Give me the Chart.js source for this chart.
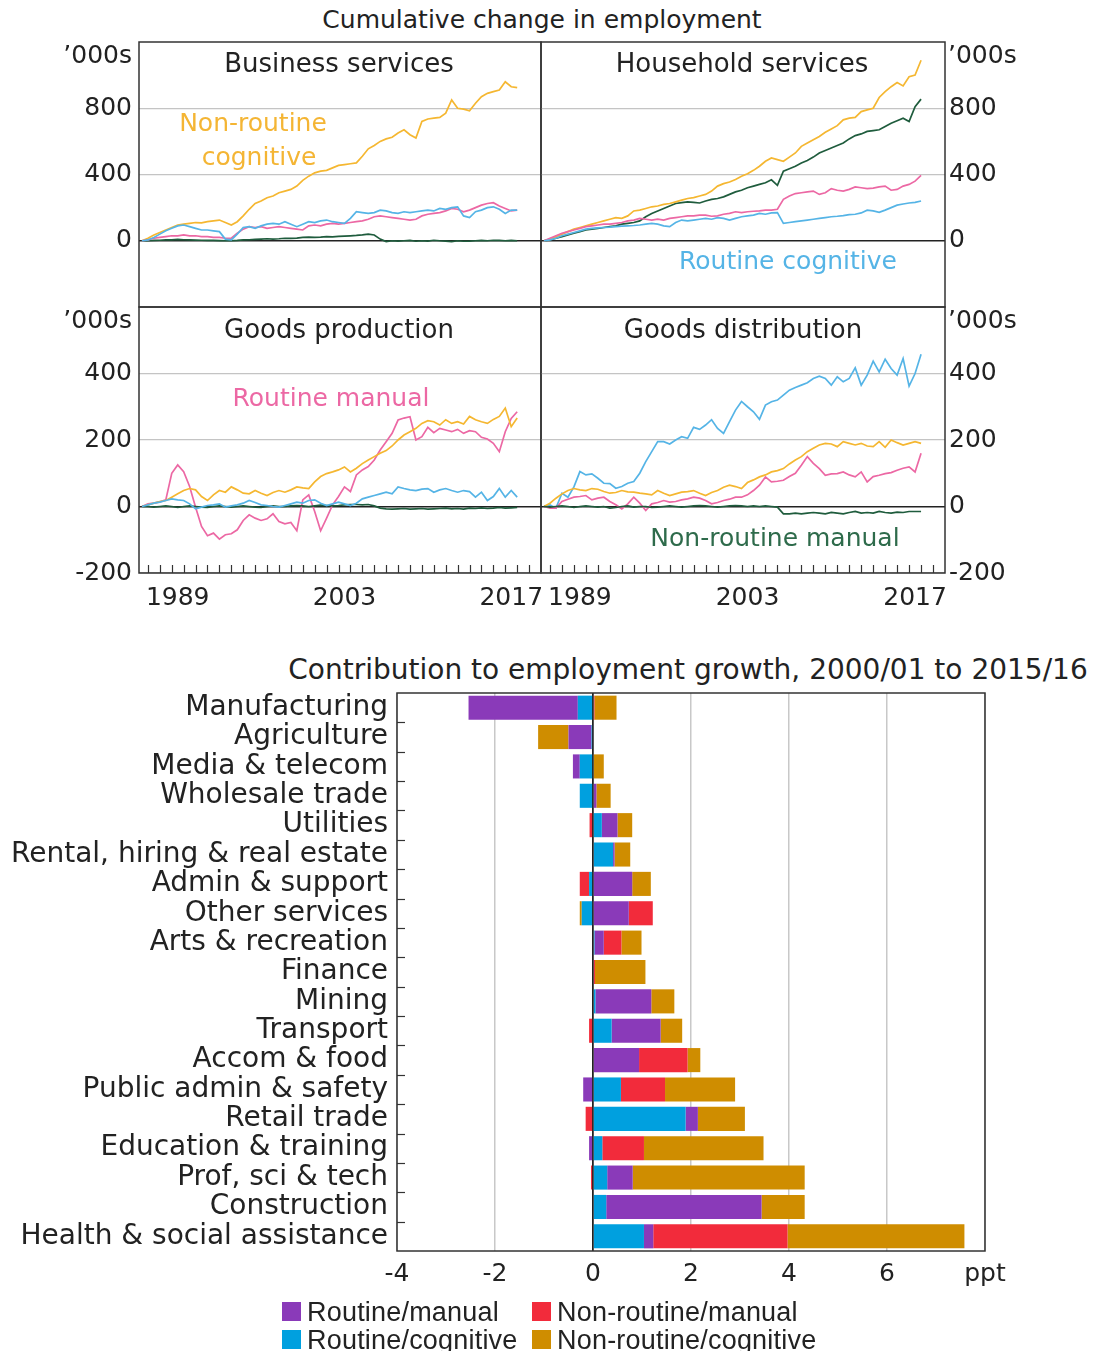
<!DOCTYPE html>
<html>
<head>
<meta charset="utf-8">
<script src="https://cdn.jsdelivr.net/npm/chart.js@4"></script>
<style>
  body { margin: 0; background: #fff; width: 1094px; height: 1351px; position: relative; overflow: hidden;
         font-family: 'DejaVu Sans', sans-serif; color: #222; }
  canvas { position: absolute; }
  .t { position: absolute; white-space: nowrap; font-size: 25px; line-height: 30px; }
  .c { text-align: center; width: 400px; }
  .r { text-align: right; width: 100px; }
  .pt { font-size: 26px; }
  .lg { font-family: 'Liberation Sans', Arial, sans-serif; font-size: 27px; letter-spacing: 0.2px; }
  .sq { position: absolute; width: 19px; height: 19px; }
</style>
</head>
<body>
<div class="t" style="left:0;width:1084px;text-align:center;top:5px">Cumulative change in employment</div>

<canvas id="tl" width="545" height="282" style="left:0;top:30px"></canvas>
<canvas id="tr" width="557" height="282" style="left:537px;top:30px"></canvas>
<canvas id="bl" width="545" height="330" style="left:0;top:295px"></canvas>
<canvas id="br" width="557" height="330" style="left:537px;top:295px"></canvas>

<div class="t r" style="left:32px;top:40px">’000s</div>
<div class="t r" style="left:32px;top:305px">’000s</div>
<div class="t" style="left:948px;top:40px">’000s</div>
<div class="t" style="left:948px;top:305px">’000s</div>

<div class="t c pt" style="left:139px;top:48px">Business services</div>
<div class="t c pt" style="left:542px;top:48px">Household services</div>
<div class="t c pt" style="left:139px;top:314px">Goods production</div>
<div class="t c pt" style="left:543px;top:314px">Goods distribution</div>

<div class="t c" style="left:53px;top:108px;color:#f4b534">Non-routine</div>
<div class="t c" style="left:59px;top:142px;color:#f4b534">cognitive</div>
<div class="t c" style="left:588px;top:246px;color:#55b4e6">Routine cognitive</div>
<div class="t c" style="left:131px;top:383px;color:#ec68a4">Routine manual</div>
<div class="t c" style="left:575px;top:523px;color:#2e6b4b">Non-routine manual</div>

<div class="t" style="left:188px;width:1000px;text-align:center;top:655px;font-size:28px">Contribution to employment growth, 2000/01 to 2015/16</div>
<canvas id="bars" width="1010" height="630" style="left:0;top:673px"></canvas>

<div class="sq" style="left:282px;top:1302px;background:#8a3ab9"></div>
<div class="t lg" style="left:307px;top:1297px">Routine/manual</div>
<div class="sq" style="left:532px;top:1302px;background:#f22b3b"></div>
<div class="t lg" style="left:557px;top:1297px">Non-routine/manual</div>
<div class="sq" style="left:282px;top:1330px;background:#00a0df"></div>
<div class="t lg" style="left:307px;top:1325px">Routine/cognitive</div>
<div class="sq" style="left:532px;top:1330px;background:#cf8d00"></div>
<div class="t lg" style="left:557px;top:1325px">Non-routine/cognitive</div>

<script>
// half-yearly readings, 1986.5 to 2018.0
const dates = Array.from({ length: 64 }, (_, i) => 1986.5 + i * 0.5);
const yearLabels = [1989, 2003, 2017];

// Business services
const bsNRC = [0, 15, 35, 50, 65, 80, 95, 100,
  105, 110, 108, 115, 120, 125, 110, 95,
  115, 150, 190, 225, 240, 260, 270, 290,
  300, 310, 330, 365, 390, 410, 420, 425,
  440, 455, 460, 465, 470, 510, 555, 575,
  600, 615, 625, 650, 670, 640, 620, 720,
  735, 740, 745, 770, 850, 800, 795, 785,
  830, 870, 890, 900, 910, 960, 930, 925];
const bsRC = [0, 5, 20, 40, 60, 75, 90, 95,
  85, 75, 65, 65, 60, 55, 10, 5,
  40, 80, 85, 75, 90, 100, 105, 100,
  115, 100, 85, 100, 115, 110, 120, 125,
  115, 110, 105, 135, 175, 170, 165, 170,
  185, 180, 170, 165, 175, 170, 175, 180,
  185, 180, 195, 190, 200, 205, 150, 140,
  175, 185, 200, 205, 190, 165, 185, 185];
const bsRM = [0, 5, 15, 20, 25, 30, 30, 35,
  30, 30, 25, 25, 20, 20, 15, 15,
  45, 70, 85, 80, 85, 75, 80, 85,
  80, 75, 70, 65, 90, 95, 90, 100,
  105, 100, 105, 110, 115, 120, 130, 145,
  150, 145, 140, 135, 130, 125, 130, 150,
  160, 165, 170, 180, 195, 190, 175, 185,
  200, 215, 225, 230, 210, 195, 180, 185];
const bsNRM = [0, 0, 2, 3, 5, 5, 8, 6,
  5, 4, 3, 2, 2, 1, 0, 0,
  2, 5, 6, 8, 10, 12, 10, 12,
  15, 14, 16, 20, 22, 20, 22, 25,
  24, 26, 28, 30, 32, 35, 40, 35,
  10, -5, 0, -2, 0, 2, -3, 0,
  -2, 3, 0, -2, -5, 0, -3, -2,
  0, 2, 0, 3, 2, 0, 2, 0];

// Household services
const hsNRC = [0, 10, 25, 40, 55, 70, 80, 90,
  100, 110, 120, 130, 140, 135, 150, 180,
  185, 195, 205, 210, 220, 225, 235, 245,
  255, 260, 270, 280, 300, 330, 345, 355,
  370, 390, 405, 425, 450, 480, 500, 490,
  480, 505, 530, 570, 590, 610, 630, 655,
  675, 695, 730, 740, 745, 780, 790, 800,
  865, 900, 930, 955, 935, 990, 1000, 1090];
const hsNRM = [0, 5, 15, 25, 35, 45, 55, 65,
  70, 75, 80, 85, 90, 100, 105, 110,
  120, 145, 165, 180, 195, 210, 225, 230,
  235, 232, 228, 240, 250, 255, 265, 280,
  295, 305, 320, 330, 340, 350, 368, 335,
  420, 435, 450, 470, 485, 505, 530, 545,
  560, 575, 590, 615, 635, 645, 660, 665,
  670, 690, 710, 725, 740, 720, 810, 855];
const hsRM = [0, 15, 30, 45, 55, 65, 75, 85,
  90, 95, 100, 100, 105, 110, 120, 125,
  135, 130, 125, 130, 125, 135, 140, 145,
  150, 150, 155, 155, 148, 150, 160, 165,
  175, 170, 175, 178, 180, 185, 185, 190,
  250, 270, 285, 290, 295, 300, 280, 290,
  315, 305, 300, 310, 325, 320, 315, 318,
  325, 330, 305, 310, 330, 340, 360, 395];
const hsRC = [0, 5, 15, 30, 40, 50, 60, 70,
  75, 78, 80, 82, 85, 88, 90, 92,
  95, 100, 105, 100, 90, 85, 110, 125,
  120, 125, 130, 135, 130, 140, 135, 125,
  135, 145, 150, 155, 165, 160, 168, 170,
  105, 110, 115, 120, 125, 130, 135, 140,
  145, 148, 152, 158, 160, 168, 185, 180,
  172, 185, 200, 215, 222, 228, 232, 240];

// Goods production
const gpRM = [0, 8, 10, 14, 20, 100, 125, 105,
  60, -2, -60, -88, -80, -98, -85, -82,
  -70, -42, -25, -35, -42, -37, -22, -45,
  -52, -48, -73, 20, 35, -15, -73, -35,
  5, 30, 59, 45, 95, 110, 120, 140,
  170, 195, 220, 260, 266, 270, 200, 210,
  238, 222, 235, 230, 225, 232, 220, 228,
  225, 208, 203, 190, 165, 225, 265, 285];
const gpNRC = [0, 5, 10, 15, 18, 28, 38, 48,
  54, 50, 30, 18, 35, 48, 43, 59,
  50, 40, 38, 48, 40, 33, 42, 48,
  43, 50, 59, 56, 54, 74, 90, 99,
  104, 110, 119, 104, 115, 129, 140, 150,
  160, 168, 182, 200, 215, 225, 235, 250,
  258, 255, 245, 261, 250, 255, 248, 271,
  261, 255, 250, 262, 271, 296, 240, 266];
const gpRC = [0, 5, 10, 13, 18, 23, 20, 18,
  8, -7, -2, 3, 5, 8, -2, 2,
  5, 10, 18, 12, 5, 3, 0, -2,
  3, 8, 13, 10, 18, 20, 10, 3,
  8, 13, 8, 3, 10, 23, 28, 33,
  38, 43, 38, 59, 54, 50, 48, 52,
  54, 43, 50, 54, 48, 43, 48, 45,
  28, 43, 18, 30, 54, 28, 48, 28];
const gpNRM = [0, 0, -2, 0, 2, 0, -3, 0,
  2, 0, -2, -3, 0, 2, 0, -2,
  0, 2, 0, -2, -3, 0, 2, 0,
  0, 2, 3, 2, 0, 2, 4, 3,
  2, 3, 5, 6, 6, 5, 6, 2,
  -5, -7, -8, -7, -6, -8, -7, -6,
  -8, -7, -6, -5, -7, -6, -8, -5,
  -6, -4, -6, -5, -3, -5, -4, -3];

// Goods distribution
const gdRC = [0, 5, -5, 40, 28, 59, 105, 95,
  98, 85, 70, 69, 55, 60, 70, 75,
  100, 135, 165, 195, 195, 188, 200, 210,
  205, 238, 232, 245, 261, 235, 220, 255,
  290, 316, 300, 285, 262, 305, 315, 320,
  335, 350, 358, 365, 372, 385, 392, 385,
  365, 390, 375, 385, 417, 365, 395, 437,
  405, 443, 415, 395, 445, 362, 400, 458];
const gdNRC = [0, 10, 25, 38, 48, 54, 50, 48,
  54, 52, 45, 40, 42, 48, 44, 43,
  40, 38, 35, 48, 40, 33, 38, 43,
  45, 48, 40, 33, 42, 48, 58, 64,
  60, 54, 72, 80, 89, 95, 104, 108,
  114, 128, 140, 150, 165, 175, 185, 190,
  188, 180, 195, 190, 185, 190, 182, 180,
  195, 178, 200, 192, 185, 190, 195, 190];
const gdRM = [0, -5, -5, 15, 22, 28, 30, 33,
  20, 25, 28, 15, 5, -7, 8, 28,
  10, -12, 8, 12, 18, 13, 15, 20,
  23, 28, 25, 18, 8, 12, 18, 22,
  28, 28, 35, 48, 64, 89, 74, 76,
  79, 90, 100, 124, 150, 130, 114, 94,
  98, 99, 104, 95, 89, 104, 74, 90,
  94, 99, 102, 109, 115, 119, 104, 160];
const gdNRM = [0, -2, 0, 2, 0, -3, 0, 2,
  0, -2, 0, -5, -3, 0, 2, -2,
  0, 0, -3, -2, 0, 2, 0, -2,
  0, 2, 3, 2, 0, -2, 0, 2,
  3, 2, 0, 2, 0, 2, 0, -2,
  -22, -22, -20, -22, -20, -18, -20, -22,
  -18, -20, -22, -18, -15, -20, -18, -20,
  -15, -18, -20, -17, -18, -15, -15, -15];

// Contribution to employment growth (ppt)
const industries = ["Manufacturing", "Agriculture", "Media & telecom", "Wholesale trade", "Utilities",
  "Rental, hiring & real estate", "Admin & support", "Other services", "Arts & recreation", "Finance",
  "Mining", "Transport", "Accom & food", "Public admin & safety", "Retail trade",
  "Education & training", "Prof, sci & tech", "Construction", "Health & social assistance"];
const barRoutineCog = [-0.31, -0.03, -0.27, -0.27, 0.18, 0.41, -0.08, -0.23, 0.03, 0,
  0.05, 0.38, 0, 0.57, 1.89, 0.19, 0.29, 0.27, 1.04];
const barRoutineMan = [-2.23, -0.47, -0.14, 0.07, 0.32, 0.03, 0.80, 0.73, 0.19, 0,
  1.14, 1.00, 0.94, -0.20, 0.25, -0.08, 0.52, 3.17, 0.19];
const barNonRoutineMan = [0.03, 0, 0, 0, -0.07, 0, -0.19, 0.49, 0.36, 0.04,
  0, -0.08, 0.99, 0.90, -0.15, 0.85, -0.04, 0, 2.74];
const barNonRoutineCog = [0.45, -0.62, 0.22, 0.29, 0.30, 0.32, 0.38, -0.04, 0.41, 1.03,
  0.47, 0.44, 0.26, 1.43, 0.96, 2.44, 3.51, 0.88, 3.61];

Chart.defaults.font.family = "'DejaVu Sans', sans-serif";
Chart.defaults.color = "#222";

const COL = { rc: "#55b4e6", rm: "#ec68a4", nrc: "#f5b731", nrm: "#1f5c3d" };

const frame = {
  id: "frame",
  afterDraw(chart) {
    const a = chart.chartArea, ctx = chart.ctx;
    ctx.save();
    ctx.strokeStyle = "#333";
    ctx.lineWidth = 1.5;
    ctx.strokeRect(a.left, a.top, a.right - a.left, a.bottom - a.top);
    ctx.restore();
  }
};

// small yearly ticks pointing up from the bottom edge
const yearTicks = {
  id: "yearTicks",
  afterDraw(chart) {
    const a = chart.chartArea, ctx = chart.ctx, sx = chart.scales.x;
    ctx.save();
    ctx.strokeStyle = "#333";
    ctx.lineWidth = 1.2;
    for (let y = 1987; y <= 2019; y++) {
      const px = Math.round(sx.getPixelForValue(y)) + 0.5;
      ctx.beginPath();
      ctx.moveTo(px, a.bottom);
      ctx.lineTo(px, a.bottom - 8);
      ctx.stroke();
    }
    ctx.restore();
  }
};

// fixed axis sizes, no extra room for overhanging labels
function fixX(h) {
  return (s) => { s.height = h; s.paddingLeft = 0; s.paddingRight = 0; };
}
function fixY(w) {
  return (s) => { s.width = w; s.paddingTop = 0; s.paddingBottom = 0; };
}

function lineSet(vals, color) {
  return {
    data: vals.map((v, i) => ({ x: dates[i], y: v })),
    borderColor: color,
    borderWidth: 1.7,
    pointRadius: 0,
    tension: 0
  };
}

function panel(id, sets, yr, side, bottom) {
  const pad = side === "left"
    ? { top: 12, right: 4, left: 0, bottom: bottom ? 0 : 5 }
    : { top: 12, left: 4, right: 0, bottom: bottom ? 0 : 5 };
  new Chart(document.getElementById(id), {
    type: "line",
    data: { datasets: sets },
    options: {
      responsive: false,
      animation: false,
      layout: { padding: pad },
      plugins: { legend: { display: false }, tooltip: { enabled: false } },
      scales: {
        x: {
          type: "linear",
          min: 1986.25,
          max: 2020,
          display: bottom,
          afterBuildTicks: (s) => { s.ticks = yearLabels.map((v) => ({ value: v + 0.5 })); },
          ticks: { callback: (v) => String(Math.floor(v)), autoSkip: false, maxRotation: 0, padding: 10, font: { size: 25 } },
          grid: { display: false, drawTicks: false },
          border: { display: false },
          afterFit: fixX(bottom ? 52 : 0)
        },
        y: {
          position: side,
          min: yr.min,
          max: yr.max,
          ticks: {
            stepSize: yr.step,
            callback: (v) => (yr.shown.includes(v) ? String(v) : null),
            padding: side === "left" ? 7 : 4,
            font: { size: 25 }
          },
          grid: {
            drawTicks: false,
            color: (c) => (c.tick && c.tick.value === 0 ? "#222" : "#c4c4c4"),
            lineWidth: (c) => (c.tick && c.tick.value === 0 ? 1.6 : 1.3)
          },
          border: { display: false },
          afterFit: fixY(side === "left" ? 139 : 149)
        }
      }
    },
    plugins: bottom ? [frame, yearTicks] : [frame]
  });
}

const topRange = { min: -400, max: 1200, step: 400, shown: [0, 400, 800] };
const botRange = { min: -200, max: 600, step: 200, shown: [-200, 0, 200, 400] };

panel("tl", [lineSet(bsRC, COL.rc), lineSet(bsRM, COL.rm), lineSet(bsNRM, COL.nrm), lineSet(bsNRC, COL.nrc)], topRange, "left", false);
panel("tr", [lineSet(hsRC, COL.rc), lineSet(hsRM, COL.rm), lineSet(hsNRC, COL.nrc), lineSet(hsNRM, COL.nrm)], topRange, "right", false);
panel("bl", [lineSet(gpRC, COL.rc), lineSet(gpNRM, COL.nrm), lineSet(gpNRC, COL.nrc), lineSet(gpRM, COL.rm)], botRange, "left", true);
panel("br", [lineSet(gdNRM, COL.nrm), lineSet(gdRM, COL.rm), lineSet(gdNRC, COL.nrc), lineSet(gdRC, COL.rc)], botRange, "right", true);

// category boundary ticks and zero line on top of the bars
const barExtras = {
  id: "barExtras",
  afterDatasetsDraw(chart) {
    const a = chart.chartArea, ctx = chart.ctx, sy = chart.scales.y, sx = chart.scales.x;
    ctx.save();
    ctx.strokeStyle = "#333";
    ctx.lineWidth = 1.2;
    for (let i = 1; i < industries.length; i++) {
      const py = Math.round(sy.getPixelForValue(i - 0.5)) + 0.5;
      ctx.beginPath();
      ctx.moveTo(a.left, py);
      ctx.lineTo(a.left + 8, py);
      ctx.stroke();
    }
    const zx = sx.getPixelForValue(0);
    ctx.strokeStyle = "#222";
    ctx.lineWidth = 1;
    ctx.beginPath();
    ctx.moveTo(zx, a.top);
    ctx.lineTo(zx, a.bottom);
    ctx.stroke();
    ctx.restore();
  }
};

new Chart(document.getElementById("bars"), {
  type: "bar",
  data: {
    labels: industries,
    datasets: [
      { label: "Routine/cognitive", data: barRoutineCog, backgroundColor: "#00a0df" },
      { label: "Routine/manual", data: barRoutineMan, backgroundColor: "#8a3ab9" },
      { label: "Non-routine/manual", data: barNonRoutineMan, backgroundColor: "#f22b3b" },
      { label: "Non-routine/cognitive", data: barNonRoutineCog, backgroundColor: "#cf8d00" }
    ]
  },
  options: {
    indexAxis: "y",
    responsive: false,
    animation: false,
    datasets: { bar: { barPercentage: 0.82, categoryPercentage: 1, borderWidth: 0 } },
    layout: { padding: { top: 20, right: 25, left: 0, bottom: 0 } },
    plugins: { legend: { display: false }, tooltip: { enabled: false } },
    scales: {
      x: {
        stacked: true,
        min: -4,
        max: 8,
        ticks: {
          stepSize: 2,
          callback: (v) => (v === 8 ? "ppt" : String(v)),
          padding: 8,
          autoSkip: false,
          maxRotation: 0,
          font: { size: 25 }
        },
        grid: {
          drawTicks: false,
          color: (c) => (c.tick && c.tick.value === 0 ? "#222" : "#c8c8c8"),
          lineWidth: 1.5
        },
        border: { display: false },
        afterFit: fixX(52)
      },
      y: {
        stacked: true,
        ticks: { padding: 9, autoSkip: false, font: { size: 28 } },
        grid: { display: false, drawTicks: false },
        border: { display: false },
        afterFit: fixY(397)
      }
    }
  },
  plugins: [frame, barExtras]
});
</script>
</body>
</html>
